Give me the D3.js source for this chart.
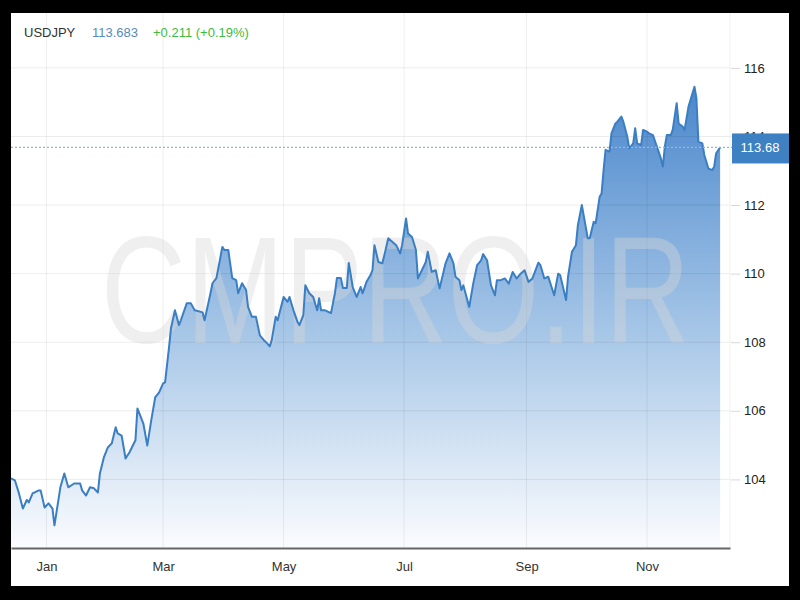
<!DOCTYPE html>
<html><head><meta charset="utf-8">
<script src="https://cdn.jsdelivr.net/npm/d3@7"></script>
<style>html,body{margin:0;padding:0;background:#000;}svg{display:block;}</style>
</head><body>
<script>
const symbol = "USDJPY";
const lastPrice = "113.683";
const change = "+0.211 (+0.19%)";
const lastLabel = "113.68";
const lastValue = 113.68;
const watermark = "CMPRO.IR";
const yTicks = [104, 106, 108, 110, 112, 114, 116];
const monthTicks = ["2021-01-01","2021-03-01","2021-05-01","2021-07-01","2021-09-01","2021-11-01"];
const monthLabels = ["Jan","Mar","May","Jul","Sep","Nov"];
const dates = ["2020-12-14","2020-12-16","2020-12-18","2020-12-20","2020-12-22","2020-12-23","2020-12-25","2020-12-26","2020-12-28","2020-12-29","2020-12-31",
"2021-01-02","2021-01-04","2021-01-05","2021-01-08","2021-01-10","2021-01-12","2021-01-15","2021-01-18","2021-01-19","2021-01-21","2021-01-23","2021-01-25","2021-01-27","2021-01-28","2021-01-30",
"2021-02-01","2021-02-03","2021-02-05","2021-02-06","2021-02-08","2021-02-10","2021-02-12","2021-02-15","2021-02-16","2021-02-19","2021-02-21","2021-02-23","2021-02-25","2021-02-27",
"2021-03-01","2021-03-02","2021-03-04","2021-03-05","2021-03-07","2021-03-09","2021-03-10","2021-03-13","2021-03-15","2021-03-17","2021-03-21","2021-03-22","2021-03-25","2021-03-26","2021-03-28","2021-03-31",
"2021-04-01","2021-04-03","2021-04-05","2021-04-07","2021-04-08","2021-04-10","2021-04-12","2021-04-13","2021-04-15","2021-04-17","2021-04-19","2021-04-21","2021-04-22","2021-04-24","2021-04-25","2021-04-27","2021-04-28",
"2021-05-01","2021-05-03","2021-05-04","2021-05-06","2021-05-08","2021-05-09","2021-05-11","2021-05-12","2021-05-14","2021-05-16","2021-05-18","2021-05-19","2021-05-20","2021-05-22","2021-05-25","2021-05-27","2021-05-28","2021-05-30","2021-05-31",
"2021-06-02","2021-06-03","2021-06-05","2021-06-07","2021-06-09","2021-06-10","2021-06-12","2021-06-14","2021-06-15","2021-06-16","2021-06-18","2021-06-20","2021-06-21","2021-06-23","2021-06-26","2021-06-27","2021-06-29","2021-06-30",
"2021-07-02","2021-07-03","2021-07-05","2021-07-07","2021-07-08","2021-07-10","2021-07-12","2021-07-13","2021-07-15","2021-07-17","2021-07-19","2021-07-22","2021-07-24","2021-07-26","2021-07-27","2021-07-29","2021-07-30","2021-07-31",
"2021-08-03","2021-08-05","2021-08-07","2021-08-09","2021-08-10","2021-08-12","2021-08-14","2021-08-16","2021-08-17","2021-08-19","2021-08-21","2021-08-23","2021-08-25","2021-08-27","2021-08-29","2021-08-31",
"2021-09-02","2021-09-04","2021-09-07","2021-09-08","2021-09-10","2021-09-12","2021-09-15","2021-09-17","2021-09-18","2021-09-21","2021-09-22","2021-09-24","2021-09-26","2021-09-27","2021-09-29",
"2021-10-02","2021-10-03","2021-10-05","2021-10-06","2021-10-08","2021-10-09","2021-10-10","2021-10-11","2021-10-13","2021-10-14","2021-10-16","2021-10-17","2021-10-19","2021-10-20","2021-10-22","2021-10-23","2021-10-25","2021-10-26","2021-10-27","2021-10-29","2021-10-30",
"2021-11-01","2021-11-02","2021-11-04","2021-11-06","2021-11-08","2021-11-09","2021-11-10","2021-11-11","2021-11-13","2021-11-14","2021-11-16","2021-11-17","2021-11-19","2021-11-20","2021-11-22","2021-11-25","2021-11-26","2021-11-27","2021-11-29","2021-11-30",
"2021-12-02","2021-12-04","2021-12-05","2021-12-06","2021-12-08"];
const prices = [104.03,103.97,103.6,103.15,103.4,103.33,103.6,103.62,103.68,103.68,103.18,
103.3,103.15,102.66,103.77,104.17,103.77,103.88,103.88,103.68,103.53,103.77,103.74,103.62,104.17,104.64,
104.93,105.05,105.52,105.34,105.28,104.61,104.79,105.14,106.07,105.63,104.99,105.72,106.39,106.54,
106.8,106.83,107.85,108.41,108.93,108.5,108.64,109.14,109.14,108.93,108.87,108.64,109.43,109.72,109.87,110.78,
110.69,110.69,109.87,109.81,109.43,109.72,109.52,109.03,108.74,108.74,108.2,108.06,108.01,107.88,108.06,108.74,108.64,
109.32,109.18,109.32,108.93,108.6,108.5,108.79,109.66,109.43,109.32,108.93,109.28,108.93,108.93,108.85,109.43,109.87,109.87,109.58,
109.58,110.31,109.61,109.32,109.61,109.43,109.76,109.96,110.1,110.83,110.34,110.3,110.54,111.03,110.88,110.83,110.59,110.83,
111.61,111.17,111.07,110.69,109.86,110.1,110.34,110.64,110.05,110.1,109.57,110.3,110.59,110.3,109.91,109.81,109.52,109.66,
109.03,109.71,110.25,110.39,110.57,110.39,109.66,109.37,109.81,109.81,109.86,109.71,110.05,109.86,110.0,110.1,
109.76,109.86,110.32,110.25,109.86,109.91,109.37,110.0,109.96,109.23,109.91,110.64,110.83,111.42,112.0,
111.03,111.03,111.51,111.47,112.24,112.34,113.02,113.61,113.56,114.09,114.38,114.43,114.58,114.43,113.99,113.65,113.8,114.24,113.8,113.75,114.19,
114.14,114.09,114.04,113.7,113.36,113.12,113.7,114.04,114.04,114.19,114.97,114.38,114.29,114.19,114.87,115.45,115.11,113.85,113.8,113.46,
113.07,113.02,113.12,113.51,113.68];

const W = 800, H = 600;
const panel = {x0: 11, y0: 13, x1: 789, y1: 586};
const plot = {left: 11, right: 730, top: 13, bottom: 548};
const parse = d3.utcParse("%Y-%m-%d");
const data = dates.map((d, i) => ({date: parse(d), value: prices[i]}));
const FONT = "'Liberation Sans', Arial, sans-serif";

const svg = d3.select("body").append("svg").attr("width", W).attr("height", H)
  .style("font-family", FONT);
svg.append("rect").attr("width", W).attr("height", H).attr("fill", "#000");
svg.append("rect").attr("x", panel.x0).attr("y", panel.y0)
  .attr("width", panel.x1 - panel.x0).attr("height", panel.y1 - panel.y0).attr("fill", "#fff");

const x = d3.scaleUtc().domain([parse("2020-12-14"), parse("2021-12-13")]).range([plot.left, plot.right]);
const y = d3.scaleLinear().domain([102, 117.6]).range([plot.bottom, plot.top]);

// gradient
const defs = svg.append("defs");
const grad = defs.append("linearGradient").attr("id", "fillGrad")
  .attr("gradientUnits", "userSpaceOnUse").attr("x1", 0).attr("x2", 0)
  .attr("y1", y(115.5)).attr("y2", plot.bottom);
grad.append("stop").attr("offset", "0%").attr("stop-color", "#4a87cc");
grad.append("stop").attr("offset", "55%").attr("stop-color", "#a9c8e8");
grad.append("stop").attr("offset", "100%").attr("stop-color", "#fbfcfe");

// area & line
const area = d3.area().x(d => x(d.date)).y0(plot.bottom).y1(d => y(d.value));
const line = d3.line().x(d => x(d.date)).y(d => y(d.value));
svg.append("path").datum(data).attr("d", area).attr("fill", "url(#fillGrad)");

// grid (drawn faintly over the area)
const grid = svg.append("g");
grid.selectAll(".hg").data(yTicks).join("line")
  .attr("x1", plot.left).attr("x2", plot.right)
  .attr("y1", d => y(d)).attr("y2", d => y(d))
  .attr("stroke", "#000").attr("stroke-opacity", 0.075).attr("stroke-width", 1);
grid.selectAll(".vg").data(monthTicks).join("line")
  .attr("x1", d => x(parse(d))).attr("x2", d => x(parse(d)))
  .attr("y1", plot.top).attr("y2", plot.bottom)
  .attr("stroke", "#000").attr("stroke-opacity", 0.065).attr("stroke-width", 1);
grid.append("line").attr("x1", plot.right).attr("x2", plot.right)
  .attr("y1", plot.top).attr("y2", plot.bottom).attr("stroke", "#000").attr("stroke-opacity", 0.06);

// watermark (on top of the fill, translucent)
svg.append("text")
  .attr("transform", "translate(101,343) scale(0.775,1)")
  .attr("font-size", 152).attr("fill", "#d6d6d6").attr("fill-opacity", 0.4)
  .text(watermark);

svg.append("path").datum(data).attr("d", line).attr("fill", "none")
  .attr("stroke", "#3a7ec3").attr("stroke-width", 2).attr("stroke-linejoin", "round");

// last value dotted line
svg.append("line").attr("x1", plot.left).attr("x2", plot.right + 2)
  .attr("y1", y(lastValue)).attr("y2", y(lastValue))
  .attr("stroke", "#8fb8cf").attr("stroke-width", 1.2).attr("stroke-dasharray", "2,2");

// bottom axis
const xAxis = d3.axisBottom(x).tickValues(monthTicks.map(parse))
  .tickFormat((d, i) => monthLabels[i]).tickSize(0).tickPadding(14);
const gx = svg.append("g").attr("transform", `translate(0,${plot.bottom})`).call(xAxis);
gx.select(".domain").attr("stroke", "#666").attr("stroke-width", 2.2);
gx.selectAll("text").attr("font-size", 13).attr("fill", "#333").style("font-family", FONT);

// right axis
const yAxis = d3.axisRight(y).tickValues(yTicks).tickFormat(d3.format("d")).tickSize(9).tickPadding(4);
const gy = svg.append("g").attr("transform", `translate(${plot.right + 1},0)`).call(yAxis);
gy.select(".domain").remove();
gy.selectAll("line").attr("stroke", "#d8d8d8");
gy.selectAll("text").attr("font-size", 13).attr("fill", "#222").style("font-family", FONT);

// last value label
const ly = y(lastValue);
svg.append("rect").attr("x", 732).attr("y", ly - 14).attr("width", 57).attr("height", 30).attr("fill", "#3d81c3");
svg.append("text").attr("x", 760).attr("y", ly + 5).attr("text-anchor", "middle")
  .attr("font-size", 13).attr("fill", "#fff").text(lastLabel);

// header
const hdr = svg.append("text").attr("x", 24).attr("y", 37).attr("font-size", 13);
hdr.append("tspan").attr("fill", "#333").text(symbol);
hdr.append("tspan").attr("x", 92).attr("fill", "#5a8ab8").text(lastPrice);
hdr.append("tspan").attr("x", 153).attr("fill", "#3dbb3d").text(change);
</script>
</body></html>
